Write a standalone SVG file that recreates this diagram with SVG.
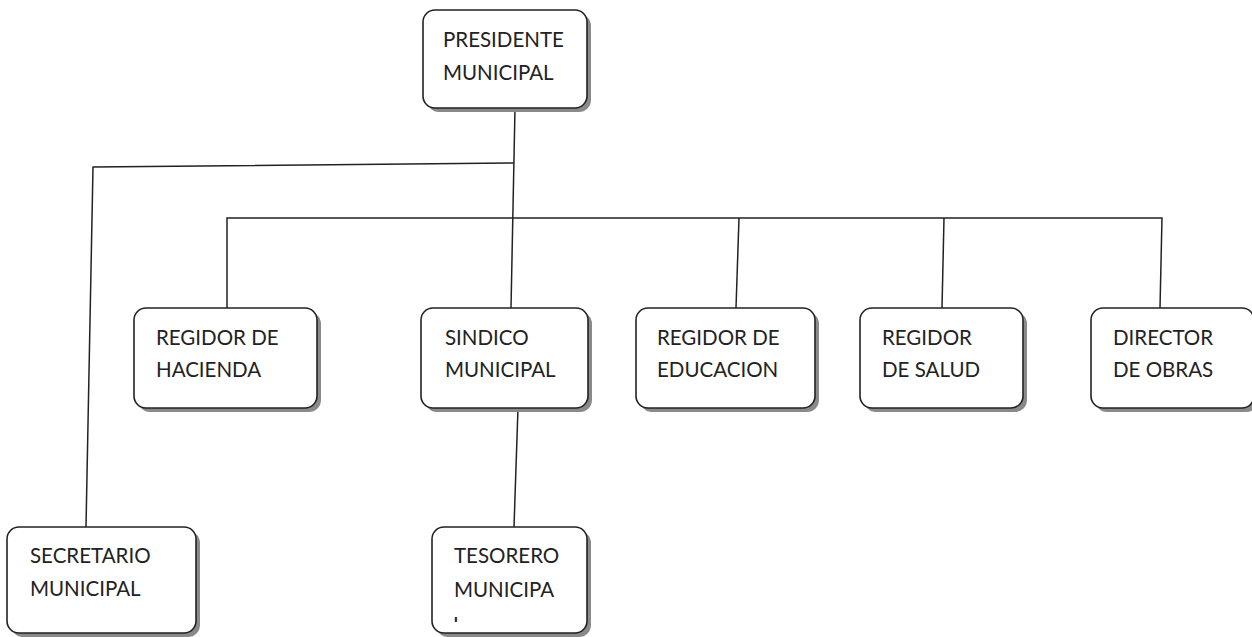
<svg xmlns="http://www.w3.org/2000/svg" width="1252" height="637" viewBox="0 0 1252 637">
<style>
.sh{fill:#8a8a8a;}
.bx{fill:#fff;stroke:#222;stroke-width:1.6;}
.t{font-family:Lato,"Liberation Sans",Arial,sans-serif;font-size:20.5px;fill:#222;}
.c{fill:none;stroke:#222;stroke-width:1.5;}
</style>
<defs>
<clipPath id="clipT"><rect x="432" y="527" width="156" height="95"/></clipPath>
</defs>
<g id="connectors">
<polyline class="c" points="515,108 511,308"/>
<polyline class="c" points="514,163 93,167 86,527"/>
<polyline class="c" points="227,308 227,218 1162,218 1160,308"/>
<line class="c" x1="739" y1="218" x2="736" y2="308"/>
<line class="c" x1="944" y1="218" x2="942" y2="308"/>
<line class="c" x1="518" y1="408" x2="514" y2="527"/>
</g>
<g id="presidente">
<rect class="sh" x="427" y="14" width="164" height="98" rx="12"/>
<rect class="bx" x="423" y="10" width="164" height="98" rx="12"/>
<text class="t" x="443" y="47">PRESIDENTE</text>
<text class="t" x="443" y="80">MUNICIPAL</text>
</g>
<g id="hacienda">
<rect class="sh" x="138" y="312" width="183" height="100" rx="12"/>
<rect class="bx" x="134" y="308" width="183" height="100" rx="12"/>
<text class="t" x="156" y="345">REGIDOR DE</text>
<text class="t" x="156" y="377">HACIENDA</text>
</g>
<g id="sindico">
<rect class="sh" x="425" y="312" width="167" height="100" rx="12"/>
<rect class="bx" x="421" y="308" width="167" height="100" rx="12"/>
<text class="t" x="445" y="345">SINDICO</text>
<text class="t" x="445" y="377">MUNICIPAL</text>
</g>
<g id="educacion">
<rect class="sh" x="640" y="312" width="179" height="100" rx="12"/>
<rect class="bx" x="636" y="308" width="179" height="100" rx="12"/>
<text class="t" x="657" y="345">REGIDOR DE</text>
<text class="t" x="657" y="377">EDUCACION</text>
</g>
<g id="salud">
<rect class="sh" x="864" y="312" width="163" height="100" rx="12"/>
<rect class="bx" x="860" y="308" width="163" height="100" rx="12"/>
<text class="t" x="882" y="345">REGIDOR</text>
<text class="t" x="882" y="377">DE SALUD</text>
</g>
<g id="director">
<rect class="sh" x="1095" y="312" width="163" height="100" rx="12"/>
<rect class="bx" x="1091" y="308" width="163" height="100" rx="12"/>
<text class="t" x="1113" y="345">DIRECTOR</text>
<text class="t" x="1113" y="377">DE OBRAS</text>
</g>
<g id="secretario">
<rect class="sh" x="11" y="531" width="189" height="106" rx="12"/>
<rect class="bx" x="7" y="527" width="189" height="106" rx="12"/>
<text class="t" x="30" y="563">SECRETARIO</text>
<text class="t" x="30" y="596">MUNICIPAL</text>
</g>
<g id="tesorero">
<rect class="sh" x="436" y="531" width="155" height="106" rx="12"/>
<rect class="bx" x="432" y="527" width="155" height="106" rx="12"/>
<text class="t" x="454" y="563">TESORERO</text>
<text class="t" x="454" y="597">MUNICIPA</text>
<text class="t" x="453" y="632" clip-path="url(#clipT)">L</text>
</g>
</svg>
